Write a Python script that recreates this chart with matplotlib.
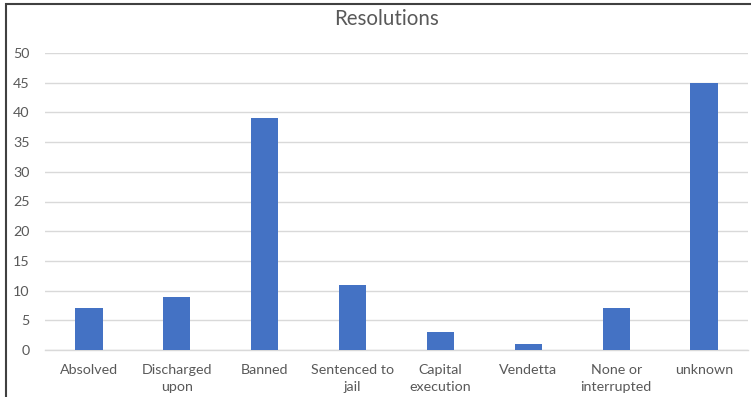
import matplotlib
matplotlib.use("Agg")
import matplotlib.pyplot as plt
from matplotlib.patches import Rectangle

categories = ["Absolved", "Discharged\nupon", "Banned", "Sentenced to\njail",
              "Capital\nexecution", "Vendetta", "None or\ninterrupted", "unknown"]
values = [7, 9, 39, 11, 3, 1, 7, 45]
yticks = [0, 5, 10, 15, 20, 25, 30, 35, 40, 45, 50]
title = "Resolutions"

plt.rcParams['font.family'] = ['Lato', 'DejaVu Sans']
W, H = 751, 397
fig = plt.figure(figsize=(W / 100, H / 100), dpi=100)
fig.patch.set_facecolor("white")

ax = fig.add_axes([45 / W, 1 - 350 / H, (748 - 45) / W, (350 - 53) / H])
x = list(range(len(categories)))
ax.bar(x, values, width=0.31, color="#4472C4", zorder=3)
ax.set_xlim(-0.5, len(categories) - 0.5)
ax.set_ylim(0, 50)
ax.set_yticks(yticks)
ax.set_xticks(x)
ax.set_xticklabels(categories, fontsize=10.3, color="#595959", linespacing=1.5)
ax.tick_params(axis="y", labelsize=10.3, labelcolor="#595959", length=0, pad=11)
ax.tick_params(axis="x", length=0, pad=10)
ax.grid(axis="y", color="#D9D9D9", linewidth=1, zorder=0)
for s in ["top", "right", "left"]:
    ax.spines[s].set_visible(False)
ax.spines["bottom"].set_color("#D9D9D9")
ax.spines["bottom"].set_linewidth(1)

fig.text(387 / W, 1 - 19 / H, title, ha="center", va="center",
         fontsize=14.8, color="#595959")

fig.patches.append(Rectangle((5.5 / W, -0.1), 2.0, (1 - 4.5 / H) + 0.1,
                             transform=fig.transFigure, fill=False,
                             edgecolor="#404040", linewidth=1.5, zorder=10))

fig.savefig("out.png", dpi=100)
